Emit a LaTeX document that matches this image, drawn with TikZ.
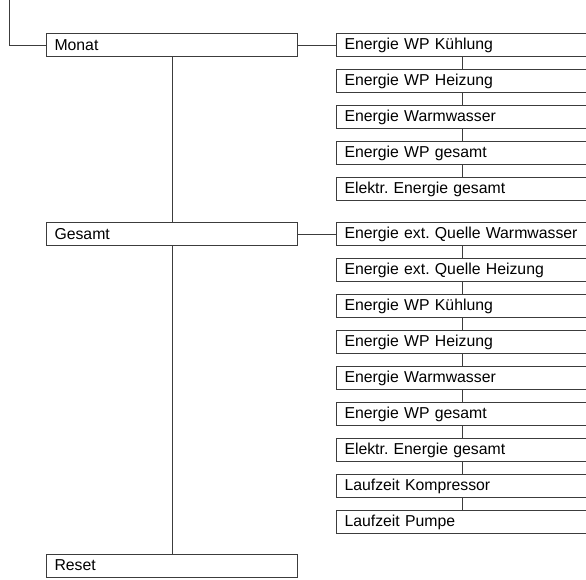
\documentclass[tikz,border=0pt]{standalone}
\usepackage{fontspec}
\setmainfont{Liberation Sans}
\usepackage{tikz}
\usetikzlibrary{positioning}
\definecolor{linegray}{RGB}{60,60,60}
\frenchspacing

\begin{document}
\begin{tikzpicture}[x=1pt, y=1pt, node distance=12pt,
        menu/.style={rectangle, draw=linegray, line width=1pt, fill=white,
            minimum height=23pt, text width=235pt, inner xsep=8pt, inner ysep=0pt,
            align=left, font=\fontsize{15.8}{17}\selectfont},
        link/.style={draw=linegray, line width=1pt}]
        \useasboundingbox (0,0) rectangle (586,-579);

        \coordinate (T) at (9,0);
        \node[menu, anchor=west] (monat)  at (46,-45)    {Monat};
        \node[menu, anchor=west] (gesamt) at (46,-234)   {Gesamt};
        \node[menu, anchor=west] (reset)  at (46,-565.5) {Reset};

        % Monat
        \node[menu, anchor=west] (m1) at (336,-45) {Energie WP K\"uhlung};
        \node[menu] (m2) [below=of m1] {Energie WP Heizung};
        \node[menu] (m3) [below=of m2] {Energie Warmwasser};
        \node[menu] (m4) [below=of m3] {Energie WP gesamt};
        \node[menu] (m5) [below=of m4] {Elektr. Energie gesamt};

        % Gesamt
        \node[menu, anchor=west] (g1) at (336,-234) {Energie ext. Quelle Warmwasser};
        \node[menu] (g2) [below=of g1] {Energie ext. Quelle Heizung};
        \node[menu] (g3) [below=of g2] {Energie WP K\"uhlung};
        \node[menu] (g4) [below=of g3] {Energie WP Heizung};
        \node[menu] (g5) [below=of g4] {Energie Warmwasser};
        \node[menu] (g6) [below=of g5] {Energie WP gesamt};
        \node[menu] (g7) [below=of g6] {Elektr. Energie gesamt};
        \node[menu] (g8) [below=of g7] {Laufzeit Kompressor};
        \node[menu] (g9) [below=of g8] {Laufzeit Pumpe};

        \draw[link] (T) |- (monat.west);
        \path[link] (monat) edge (gesamt)
              (gesamt) edge (reset)
              (monat.east) edge (m1.west)
              (gesamt.east) edge (g1.west);
        \foreach \a/\b in {1/2,2/3,3/4,4/5}
            \path[link] (m\a) edge (m\b);
        \foreach \a/\b in {1/2,2/3,3/4,4/5,5/6,6/7,7/8,8/9}
            \path[link] (g\a) edge (g\b);
    \end{tikzpicture}
\end{document}
